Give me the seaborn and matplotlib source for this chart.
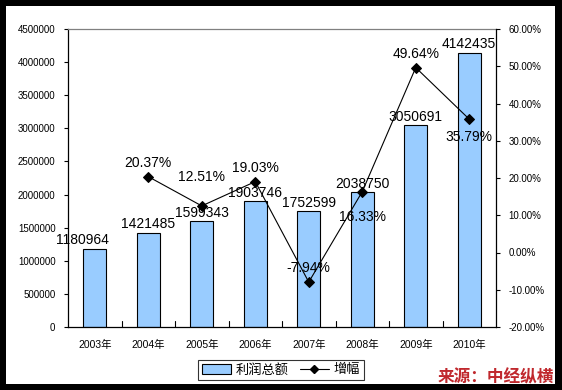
import numpy as np
import pandas as pd
import matplotlib
matplotlib.use('Agg')
import matplotlib.pyplot as plt
import seaborn as sns
from matplotlib.patches import Rectangle, Patch
from matplotlib.lines import Line2D
from matplotlib.ticker import FuncFormatter

years = ['2003年', '2004年', '2005年', '2006年', '2007年', '2008年', '2009年', '2010年']
profit = [1180964, 1421485, 1599343, 1903746, 1752599, 2038750, 3050691, 4142435]
growth = [np.nan, 20.37, 12.51, 19.03, -7.94, 16.33, 49.64, 35.79]

sns.set_theme(style='white')
plt.rcParams['font.family'] = ['Liberation Sans', 'Noto Sans CJK SC', 'DejaVu Sans']
plt.rcParams['axes.unicode_minus'] = False
plt.rcParams['text.color'] = 'black'

W, H = 562, 390
fig = plt.figure(figsize=(W / 100, H / 100), dpi=100, facecolor='black')
# white canvas inside the black frame
fig.patches.append(Rectangle((6 / W, 1 - 384 / H), 549 / W, 378 / H,
                             transform=fig.transFigure, facecolor='white',
                             edgecolor='none', zorder=-5))

ax = fig.add_axes([68 / W, 1 - 327 / H, (496 - 68) / W, (327 - 29) / H])
ax.set_facecolor('white')

df = pd.DataFrame({'year': years, 'profit': profit, 'growth': growth})
sns.barplot(data=df, x='year', y='profit', color='#99CCFF', edgecolor='black',
            linewidth=0.8, width=0.43, saturation=1, ax=ax)
ax.set_xlim(-0.5, len(years) - 0.5)
ax.set_ylim(0, 4500000)
ax.set_yticks(np.arange(0, 4500001, 500000))
ax.yaxis.set_major_formatter(FuncFormatter(lambda v, p: f'{int(v)}'))
ax.set_xlabel('')
ax.set_ylabel('')
ax.tick_params(axis='y', labelsize=7, length=3, width=0.8, direction='out',
               left=True, pad=6, colors='black')
ax.tick_params(axis='x', labelsize=7.5, length=0, pad=9, colors='black')
for x in np.arange(0.5, len(years) - 0.5, 1):
    ax.plot([x, x], [0, 4500000 * 0.02], color='black', lw=0.8, clip_on=False)

for s in ['left', 'bottom']:
    ax.spines[s].set_color('black')
    ax.spines[s].set_linewidth(0.9)
ax.spines['top'].set_color('#808080')
ax.spines['top'].set_linewidth(0.9)
ax.spines['right'].set_visible(False)

for i, v in enumerate(profit):
    dx = -9 if i == 0 else 0
    ax.annotate(f'{v}', (i, v), xytext=(dx, 1), textcoords='offset points',
                ha='center', va='bottom', fontsize=10, color='black')

ax2 = ax.twinx()
gdf = pd.DataFrame({'pos': np.arange(len(years)), 'growth': growth}).dropna()
sns.lineplot(data=gdf, x='pos', y='growth', color='black', lw=0.8, marker='D',
             markersize=5, markeredgecolor='black', ax=ax2)
ax2.set_ylim(-20, 60)
ax2.set_yticks(np.arange(-20, 61, 10))
ax2.yaxis.set_major_formatter(FuncFormatter(lambda v, p: f'{v:.2f}%'))
ax2.set_ylabel('')
ax2.set_xlabel('')
ax2.tick_params(axis='y', labelsize=7, length=3, width=0.8, direction='out',
                right=True, pad=6, colors='black')
for s in ['left', 'top', 'bottom']:
    ax2.spines[s].set_visible(False)
ax2.spines['right'].set_color('black')
ax2.spines['right'].set_linewidth(0.9)

# label offsets (points) for the growth labels, as Excel placed them
label_dy = {'2004年': 5, '2005年': 16, '2006年': 5, '2007年': 5,
            '2008年': -13, '2009年': 5, '2010年': -8}
for pos, g in zip(gdf['pos'], gdf['growth']):
    dy = label_dy[years[pos]]
    ax2.annotate(f'{g:.2f}%', (pos, g), xytext=(0, dy), textcoords='offset points',
                 ha='center', va='bottom' if dy > 0 else 'top', fontsize=10,
                 color='black')

handles = [Patch(facecolor='#99CCFF', edgecolor='black', linewidth=0.8),
           Line2D([0], [0], color='black', lw=0.8, marker='D', markersize=4)]
leg = fig.legend(handles, ['利润总额', '增幅'], loc='center',
                 bbox_to_anchor=(281 / W, 1 - 370 / H), ncol=2,
                 prop={'family': 'Noto Sans CJK SC', 'size': 9.5},
                 frameon=True, fancybox=False, edgecolor='black',
                 handlelength=2.2, columnspacing=0.8, handletextpad=0.4,
                 borderpad=0.25, borderaxespad=0)
leg.get_frame().set_linewidth(0.8)

fig.text(554 / W, 1 - 377 / H, '来源：中经纵横', color='#C0282D', fontsize=12,
         fontweight='bold', family='Noto Sans CJK SC', ha='right', va='center')

fig.savefig('out.png', dpi=100, facecolor='black')
